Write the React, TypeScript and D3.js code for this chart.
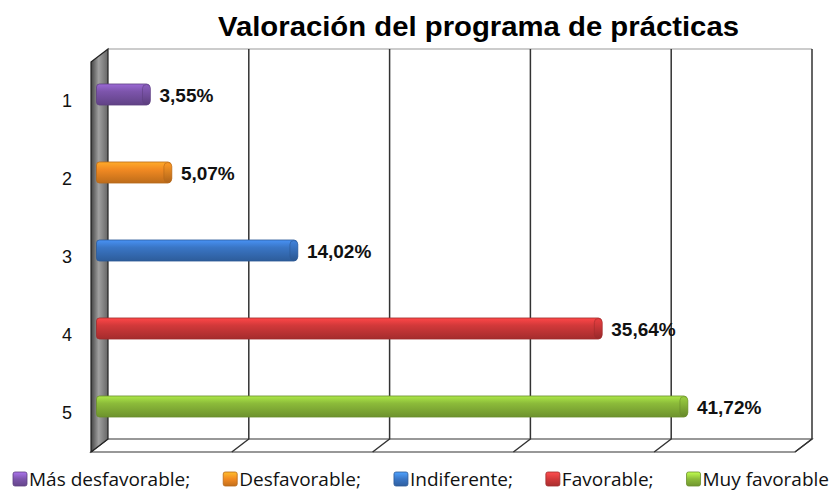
import React, { useEffect, useRef } from "react";
import * as d3 from "d3";

const categories = ["1", "2", "3", "4", "5"];
const values = [3.55, 5.07, 14.02, 35.64, 41.72];
const valueLabels = ["3,55%", "5,07%", "14,02%", "35,64%", "41,72%"];
const seriesNames = ["Más desfavorable;", "Desfavorable;", "Indiferente;", "Favorable;", "Muy favorable"];
const colors = ["#7d55ac", "#f28a22", "#3a76c6", "#d2393a", "#8cbb3a"];
const xTicks = [0, 10, 20, 30, 40, 50];
const title = "Valoración del programa de prácticas";

const W = 836;
const H = 491;

export default function App() {
  const ref = useRef<SVGSVGElement>(null);

  useEffect(() => {
    const svg = d3.select(ref.current);
    svg.selectAll("*").remove();

    const back = { left: 108, right: 812, top: 49, bottom: 439 };
    const dx = -17;
    const dy = 13;

    const x = d3.scaleLinear().domain([0, 50]).range([back.left, back.right]);
    const y = d3.scaleBand<string>().domain(categories).range([back.top, back.bottom]).paddingInner(0.73).paddingOuter(0.365);

    const defs = svg.append("defs");
    const wallG = defs.append("linearGradient").attr("id", "wall").attr("x1", 0).attr("x2", 1).attr("y1", 0).attr("y2", 0);
    wallG.append("stop").attr("offset", "0%").attr("stop-color", "#444");
    wallG.append("stop").attr("offset", "45%").attr("stop-color", "#a0a0a0");
    wallG.append("stop").attr("offset", "100%").attr("stop-color", "#666");

    colors.forEach((c, i) => {
      const g = defs.append("linearGradient").attr("id", "bar" + i).attr("x1", 0).attr("x2", 0).attr("y1", 0).attr("y2", 1);
      const base = d3.color(c)!;
      g.append("stop").attr("offset", "0%").attr("stop-color", base.brighter(0.6).formatHex());
      g.append("stop").attr("offset", "35%").attr("stop-color", base.formatHex());
      g.append("stop").attr("offset", "100%").attr("stop-color", base.darker(0.7).formatHex());
      const gc = defs.append("linearGradient").attr("id", "cap" + i).attr("x1", 0).attr("x2", 0).attr("y1", 0).attr("y2", 1);
      gc.append("stop").attr("offset", "0%").attr("stop-color", base.brighter(0.3).formatHex());
      gc.append("stop").attr("offset", "100%").attr("stop-color", base.darker(0.9).formatHex());
      const gl = defs.append("linearGradient").attr("id", "leg" + i).attr("x1", 0).attr("x2", 0).attr("y1", 0).attr("y2", 1);
      gl.append("stop").attr("offset", "0%").attr("stop-color", base.brighter(0.9).formatHex());
      gl.append("stop").attr("offset", "50%").attr("stop-color", base.formatHex());
      gl.append("stop").attr("offset", "100%").attr("stop-color", base.darker(0.6).formatHex());
    });

    svg.append("rect").attr("width", W).attr("height", H).attr("fill", "#fff");

    // Title
    svg.append("text")
      .attr("x", 218).attr("y", 36)
      .attr("font-family", "Liberation Sans, Arial, sans-serif")
      .attr("font-weight", "bold")
      .attr("font-size", 27)
      .attr("textLength", 521)
      .attr("lengthAdjust", "spacingAndGlyphs")
      .attr("fill", "#000")
      .text(title);

    // Back wall
    svg.append("rect")
      .attr("x", back.left).attr("y", back.top)
      .attr("width", back.right - back.left).attr("height", back.bottom - back.top)
      .attr("fill", "#fff");
    svg.append("line")
      .attr("x1", back.left).attr("x2", back.right)
      .attr("y1", back.top).attr("y2", back.top)
      .attr("stroke", "#9a9a9a").attr("stroke-width", 1.2);

    // Floor
    svg.append("path")
      .attr("d", `M${back.left},${back.bottom} L${back.right},${back.bottom} L${back.right + dx},${back.bottom + dy} L${back.left + dx},${back.bottom + dy} Z`)
      .attr("fill", "#fff").attr("stroke", "#333").attr("stroke-width", 1.2);

    // Gridlines
    xTicks.slice(1).forEach((t) => {
      svg.append("path")
        .attr("d", `M${x(t)},${back.top} L${x(t)},${back.bottom} L${x(t) + dx},${back.bottom + dy}`)
        .attr("fill", "none").attr("stroke", "#333").attr("stroke-width", 1.5);
    });

    // Left wall
    svg.append("path")
      .attr("d", `M${back.left + dx},${back.top + dy} L${back.left},${back.top} L${back.left},${back.bottom} L${back.left + dx},${back.bottom + dy} Z`)
      .attr("fill", "url(#wall)").attr("stroke", "#222").attr("stroke-width", 1.2);

    // Bars
    const bh = y.bandwidth();
    const bars = svg.append("g");
    categories.forEach((c, i) => {
      const x0 = x(0) + dx / 2 - 3;
      const x1 = x(values[i]) + dx / 2;
      const yc = (y(c) as number) + dy / 2;
      bars.append("rect")
        .attr("x", x0).attr("y", yc).attr("width", x1 - x0).attr("height", bh)
        .attr("rx", 3)
        .attr("fill", `url(#bar${i})`)
        .attr("stroke", d3.color(colors[i])!.darker(0.8).formatHex())
        .attr("stroke-width", 0.8);
      bars.append("rect")
        .attr("x", x1 - 7).attr("y", yc + 0.5).attr("width", 8).attr("height", bh - 1)
        .attr("rx", 4)
        .attr("fill", `url(#cap${i})`)
        .attr("stroke", d3.color(colors[i])!.darker(0.8).formatHex())
        .attr("stroke-width", 0.6);
      bars.append("text")
        .attr("x", x1 + 10).attr("y", yc + bh / 2 + 7)
        .attr("font-family", "Liberation Sans, Arial, sans-serif")
        .attr("font-weight", "bold")
        .attr("font-size", 19)
        .attr("fill", "#111")
        .text(valueLabels[i]);
      svg.append("text")
        .attr("x", 72).attr("y", yc + bh / 2 + 12.5)
        .attr("text-anchor", "end")
        .attr("font-family", "Liberation Sans, Arial, sans-serif")
        .attr("font-size", 18)
        .attr("fill", "#111")
        .text(c);
    });

    // Legend
    const leg = svg.append("g");
    const fontSize = 19;
    const items = seriesNames.map((name, i) => {
      const g = leg.append("g");
      g.append("rect").attr("x", 0).attr("y", -14).attr("width", 14).attr("height", 14).attr("rx", 2)
        .attr("fill", `url(#leg${i})`).attr("stroke", d3.color(colors[i])!.darker(0.8).formatHex()).attr("stroke-width", 0.8);
      const t = g.append("text").attr("x", 16).attr("y", 0)
        .attr("font-family", "Open Sans, sans-serif")
        .attr("font-size", fontSize)
        .attr("fill", "#111")
        .text(name);
      return { g, t };
    });
    const widths = items.map((it) => 16 + (it.t.node() as SVGTextElement).getComputedTextLength());
    const target = 829 - 13;
    const natural = d3.sum(widths);
    const gap = (target - natural) / (items.length - 1);
    let cx = 13;
    items.forEach((it, i) => {
      it.g.attr("transform", `translate(${cx},486)`);
      cx += widths[i] + gap;
    });
  }, []);

  return <svg ref={ref} width={W} height={H} style={{ display: "block", position: "absolute", left: 0, top: 0 }} />;
}
